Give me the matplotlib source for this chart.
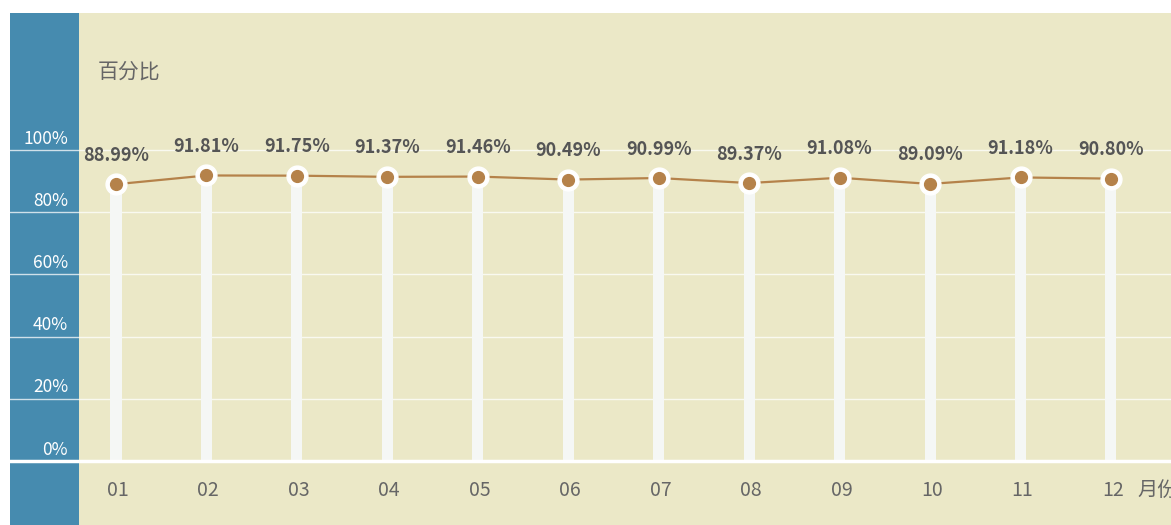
import matplotlib.pyplot as plt
from matplotlib.patches import Rectangle
import matplotlib.transforms as mtransforms

plt.rcParams['font.family'] = ['Noto Sans CJK SC', 'DejaVu Sans']

months = ['01', '02', '03', '04', '05', '06', '07', '08', '09', '10', '11', '12']
rates = [88.99, 91.81, 91.75, 91.37, 91.46, 90.49, 90.99, 89.37, 91.08, 89.09, 91.18, 90.80]
y_ticks = [0, 20, 40, 60, 80, 100]
y_title = '百分比'
x_title = '月份'

blue = '#468baf'
beige = '#ebe8c7'
brown = '#b5824a'
bar_color = '#f5f7f5'

W, H = 1171, 525
fig = plt.figure(figsize=(W / 100, H / 100), dpi=100)
fig.patch.set_facecolor('white')

# axes spans from the left edge of the blue strip to the right edge of the figure
left_px, top_px = 10, 13
ax = fig.add_axes([left_px / W, 0, (W - left_px) / W, (H - top_px) / H])
ax.set_facecolor(beige)

# category spacing and value scale measured in pixels
step_px = 90.45
first_px = 116
unit_px = 3.11
zero_px = 461
ax.set_xlim((left_px - first_px) / step_px, (W - first_px) / step_px)
ax.set_ylim((zero_px - H) / unit_px, (zero_px - top_px) / unit_px)

strip_w = (79 - left_px) / (W - left_px)
ax.add_patch(Rectangle((0, 0), strip_w, 1, transform=ax.transAxes,
                       facecolor=blue, edgecolor='none', zorder=0))

for s in ax.spines.values():
    s.set_visible(False)
ax.set_xticks([])
ax.set_yticks([])

trans = mtransforms.blended_transform_factory(ax.transAxes, ax.transData)
for t in y_ticks:
    if t > 0:
        ax.axhline(t, color='white', lw=1, alpha=0.75, zorder=1)
    ax.text(58 / (W - left_px), t + 0.8, f'{t}%', transform=trans, ha='right', va='bottom',
            color='white', fontsize=12.5, zorder=5)
ax.axhline(0, color='white', lw=2.5, zorder=4)

x = list(range(len(months)))
ax.bar(x, rates, width=0.122, color=bar_color, zorder=2)
ax.plot(x, rates, color=brown, lw=1.6, zorder=3)
ax.plot(x, rates, 'o', color='white', markersize=15, zorder=4)
ax.plot(x, rates, 'o', color=brown, markersize=8.5, zorder=5)

for xi, v in zip(x, rates):
    ax.annotate(f'{v:.2f}%', (xi, v), xytext=(0, 14), textcoords='offset points',
                ha='center', va='bottom', fontsize=13, fontweight='bold', color='#555555', zorder=6)

for xi, m in zip(x, months):
    ax.text(xi + 0.02, (zero_px - 490) / unit_px, m, ha='center', va='center',
            color='#666666', fontsize=14)
ax.text((1137 - first_px) / step_px, (zero_px - 490) / unit_px, x_title, ha='left', va='center',
        color='#666666', fontsize=14.5)
ax.text((98 - first_px) / step_px, (zero_px - 72) / unit_px, y_title, ha='left', va='center',
        color='#666666', fontsize=15)

fig.savefig('out.png', dpi=100)
